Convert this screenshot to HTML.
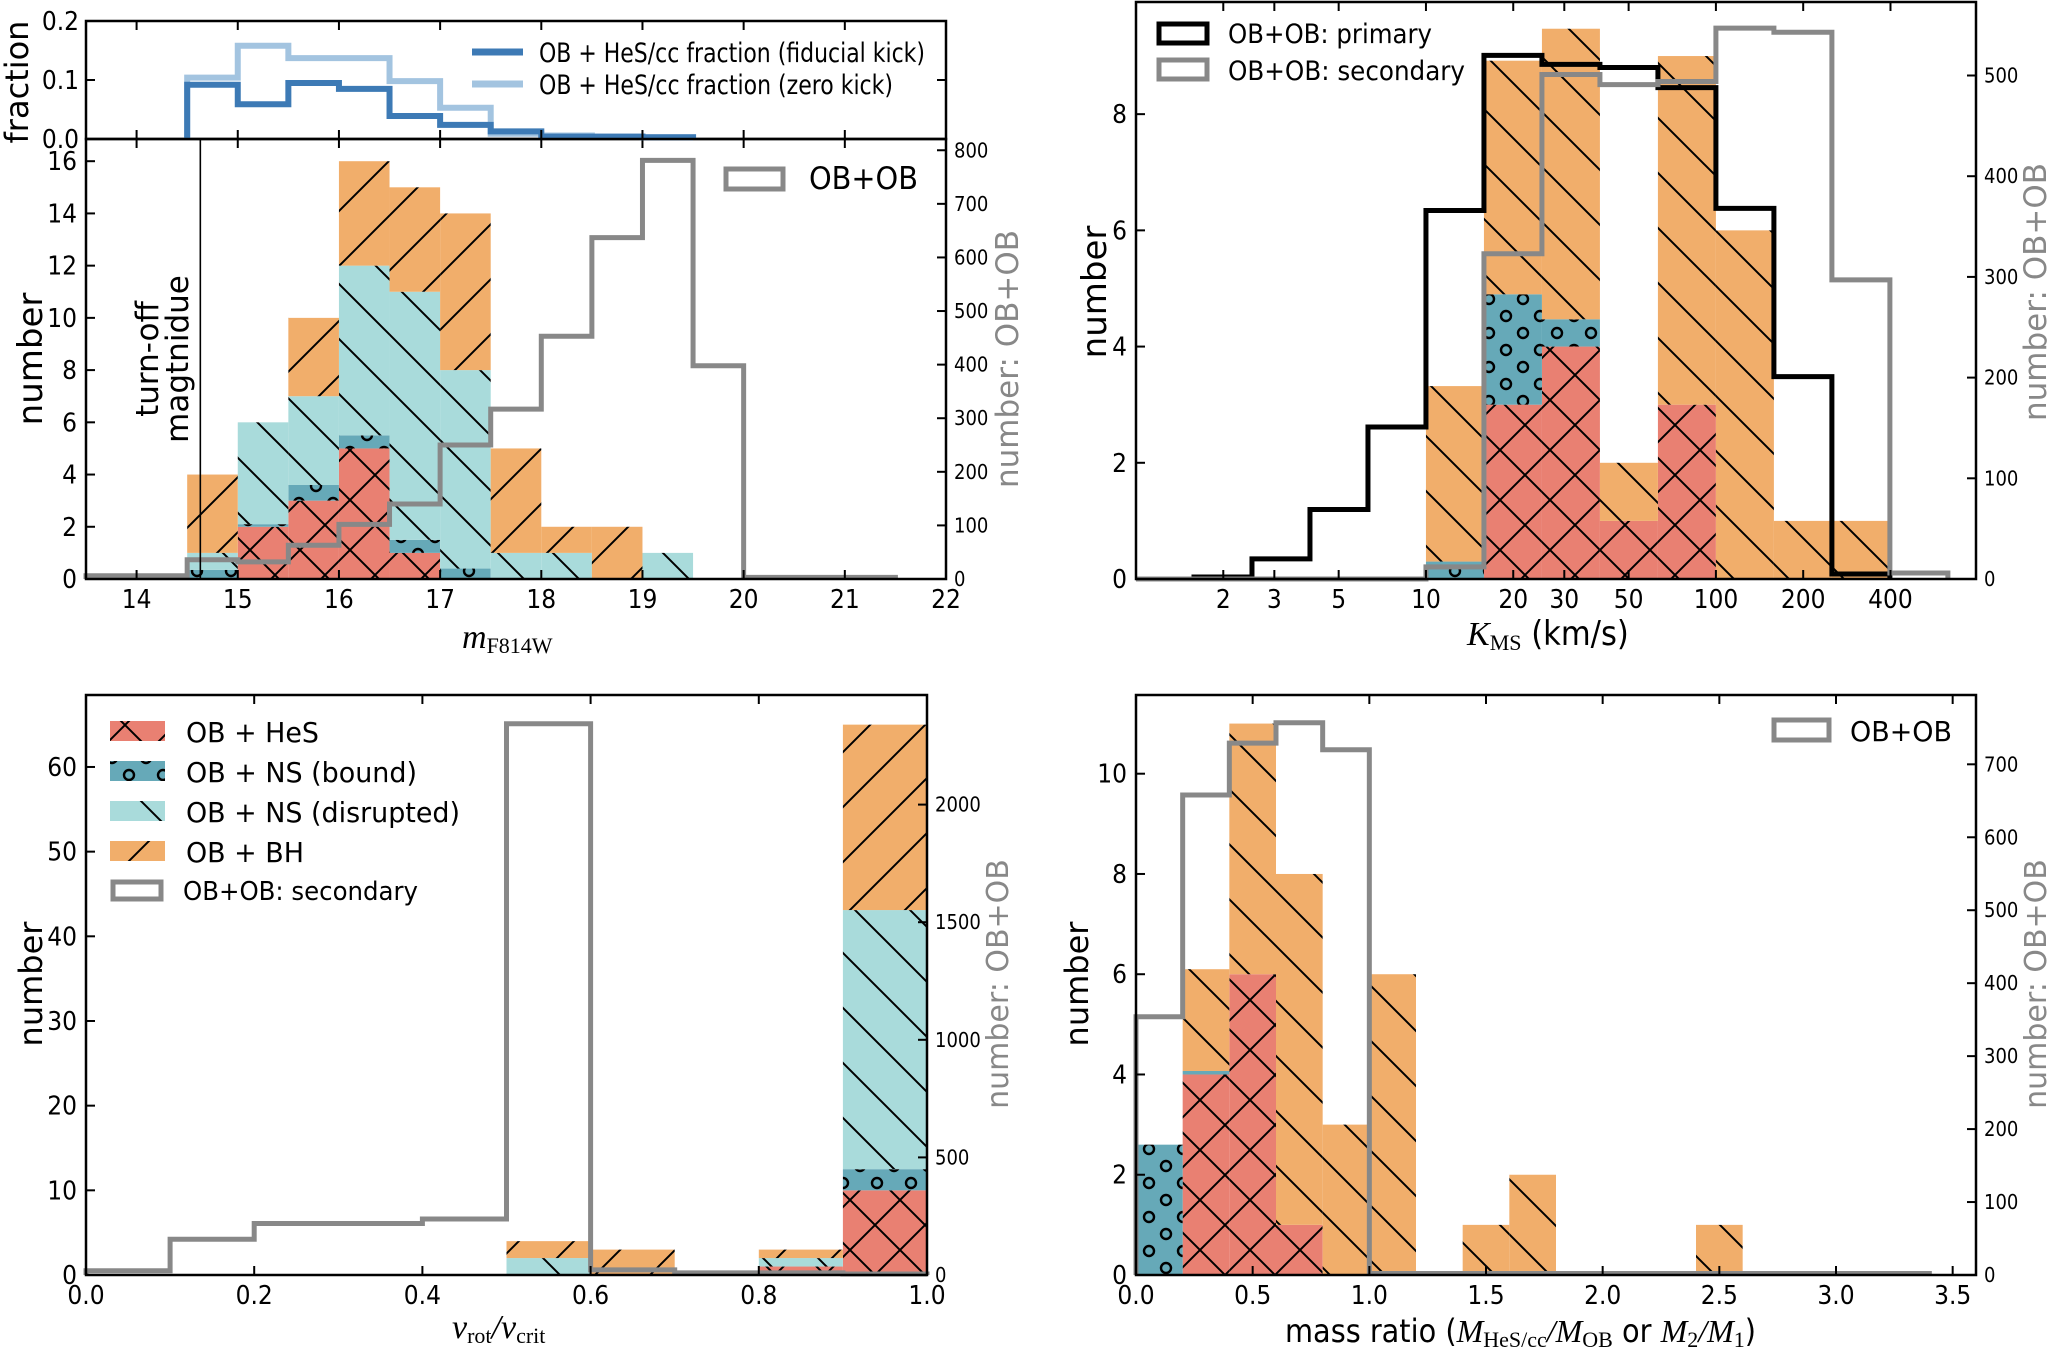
<!DOCTYPE html>
<html><head><meta charset="utf-8"><style>
html,body{margin:0;padding:0;background:#fff;}
svg{display:block;}
text{font-family:"DejaVu Sans Condensed","Liberation Sans Narrow","Liberation Sans",sans-serif;}
.lab{font-family:"DejaVu Sans","Liberation Sans",sans-serif;}
.ser{font-family:"Liberation Serif",serif;font-style:italic;}
.sers{font-family:"Liberation Serif",serif;}
</style></head><body>
<svg id="fig" width="2050" height="1348" viewBox="0 0 2050 1348" xmlns="http://www.w3.org/2000/svg">
<defs>
<pattern id="hx" patternUnits="userSpaceOnUse" width="50" height="50"><rect width="50" height="50" fill="#e98072"/><path d="M0,0L50,50M0,50L50,0" stroke="#000" stroke-width="2"/></pattern>
<pattern id="ho" patternUnits="userSpaceOnUse" width="34" height="34"><rect width="34" height="34" fill="#66a9b8"/><circle cx="10" cy="10" r="5" fill="none" stroke="#000" stroke-width="2.4"/><circle cx="27" cy="27" r="5" fill="none" stroke="#000" stroke-width="2.4"/></pattern>
<pattern id="hb" patternUnits="userSpaceOnUse" width="55" height="55"><rect width="55" height="55" fill="#a9dbdb"/><path d="M0,0L55,55M-10,45L10,65M45,-10L65,10" stroke="#000" stroke-width="2"/></pattern>
<pattern id="hf" patternUnits="userSpaceOnUse" width="55" height="55"><rect width="55" height="55" fill="#f1ae6b"/><path d="M0,55L55,0M-10,10L10,-10M45,65L65,45" stroke="#000" stroke-width="2"/></pattern>
<pattern id="hbo" patternUnits="userSpaceOnUse" width="55" height="55"><rect width="55" height="55" fill="#f1ae6b"/><path d="M0,0L55,55M-10,45L10,65M45,-10L65,10" stroke="#000" stroke-width="2"/></pattern>
</defs>
</svg>
<script>
// ---------- Panel 1 data (m_F814W) ----------
const p1Edges = [14.5,15,15.5,16,16.5,17,17.5,18,18.5,19,19.5];
const p1HeS   = [0,2,3,5,1,0,0,0,0,0];
const p1Bound = [0.35,0.1,0.6,0.5,0.5,0.4,0,0,0,0];
const p1NSd   = [0.65,3.9,3.4,6.5,9.5,7.6,1,1,0,1];
const p1BH    = [3,0,3,4,4,6,4,1,2,0];
const p1GreyEdges = [13.5,14,14.5,15,15.5,16,16.5,17,17.5,18,18.5,19,19.5,20,20.5,21,21.5];
const p1Grey  = [6,6,36,32,63,102,140,250,317,453,637,781,398,3,3,3];
const p1FracEdges = [14.5,15,15.5,16,16.5,17,17.5,18,18.5,19,19.5];
const p1FracFid  = [0.092,0.059,0.095,0.085,0.039,0.024,0.013,0.004,0.004,0.003];
const p1FracZero = [0.104,0.158,0.137,0.137,0.098,0.053,0.009,0.006,0.004,0.003];
const p1XTicks = [14,15,16,17,18,19,20,21,22];
const p1YTicks = [0,2,4,6,8,10,12,14,16];
const p1RTicks = [0,100,200,300,400,500,600,700,800];
const p1FTicks = ["0.0","0.1","0.2"];
// ---------- Panel 2 data (K_MS, log) ----------
const p2EdgeExp = [1.0,1.2,1.4,1.6,1.8,2.0,2.2,2.4,2.6];
const p2HeS   = [0,3,4,1,3,0,0,0];
const p2Bound = [0.3,1.9,0.47,0,0,0,0,0];
const p2NSd   = [0,0,0,0,0,0,0,0];
const p2BH    = [3.02,4.02,5.0,1.0,6.0,6.0,1.0,1.0];
const p2PrimExp = [0,0.2,0.4,0.6,0.8,1.0,1.2,1.4,1.6,1.8,2.0,2.2,2.4,2.6];
const p2Primary = [0,2,20,69,151,366,520,511,508,488,368,201,5];
const p2SecExp = [0,0.2,0.4,0.6,0.8,1.0,1.2,1.4,1.6,1.8,2.0,2.2,2.4,2.6,2.8];
const p2Secondary = [0,0,0,0,0,12,323,501,491,494,547,543,297,6];
const p2XTicks = [2,3,5,10,20,30,50,100,200,400];
const p2YTicks = [0,2,4,6,8];
const p2RTicks = [0,100,200,300,400,500];
// ---------- Panel 3 data (v_rot/v_crit) ----------
const p3Edges = [0,0.1,0.2,0.3,0.4,0.5,0.6,0.7,0.8,0.9,1.0];
const p3HeS   = [0,0,0,0,0,0,0,0,1,10];
const p3Bound = [0,0,0,0,0,0,0,0,0,2.5];
const p3NSd   = [0,0,0,0,0,2,0,0,1,30.6];
const p3BH    = [0,0,0,0,0,2,3,0,1,21.9];
const p3Grey  = [18,152,219,219,238,2344,22,9,9,4];
const p3XTicks = ["0.0","0.2","0.4","0.6","0.8","1.0"];
const p3YTicks = [0,10,20,30,40,50,60];
const p3RTicks = [0,500,1000,1500,2000];
// ---------- Panel 4 data (mass ratio) ----------
const p4Edges = [0,0.2,0.4,0.6,0.8,1.0,1.2,1.4,1.6,1.8,2.0,2.2,2.4,2.6,2.8,3.0,3.2,3.4];
const p4HeS   = [0,4,6,1,0,0,0,0,0,0,0,0,0,0,0,0,0];
const p4Bound = [2.6,0.07,0,0,0,0,0,0,0,0,0,0,0,0,0,0,0];
const p4NSd   = [0,0,0,0,0,0,0,0,0,0,0,0,0,0,0,0,0];
const p4BH    = [0,2.03,5,7,3,6,0,1,2,0,0,0,1,0,0,0,0];
const p4Grey  = [354,658,729,757,720,2,2,2,2,2,2,2,2,2,2,2,2];
const p4XTicks = ["0.0","0.5","1.0","1.5","2.0","2.5","3.0","3.5"];
const p4YTicks = [0,2,4,6,8,10];
const p4RTicks = [0,100,200,300,400,500,600,700];

const NS = "http://www.w3.org/2000/svg";
const svg = document.getElementById('fig');
function mk(tag, attrs, parent, txt){
  const e = document.createElementNS(NS, tag);
  for (const k in attrs) e.setAttribute(k, attrs[k]);
  if (txt !== undefined) e.textContent = txt;
  (parent||svg).appendChild(e);
  return e;
}
function lin(d0,d1,r0,r1){ return v => r0 + (v-d0)/(d1-d0)*(r1-r0); }

function stacked(g, edges, xs, ys, series, fills, name){
  const base = edges.slice(0,-1).map(()=>0);
  series.forEach((s,si)=>{
    s.forEach((v,i)=>{
      if (v<=0) return;
      const x0 = xs(edges[i]), x1 = xs(edges[i+1]);
      const y0 = ys(base[i]), y1 = ys(base[i]+v);
      const r = mk('rect',{x:x0,y:y1,width:x1-x0,height:y0-y1,fill:fills[si]},g);
      
      
      base[i]+=v;
    });
  });
}
function stepLine(g, edges, vals, xs, ys, color, width, name){
  let d = 'M'+xs(edges[0])+','+ys(0);
  vals.forEach((v,i)=>{ d += 'L'+xs(edges[i])+','+ys(v)+'L'+xs(edges[i+1])+','+ys(v); });
  d += 'L'+xs(edges[edges.length-1])+','+ys(0);
  const p = mk('path',{d:d,fill:'none',stroke:color,'stroke-width':width,'stroke-linejoin':'miter'},g);
  
  
}
function frame(g,L,T,R,B){
  const r = mk('rect',{x:L,y:T,width:R-L,height:B-T,fill:'none',stroke:'#000','stroke-width':2.5},g);
  
  
}
function xTicks(g, ticks, xs, T, B, labelY, fmt, size, top){
  ticks.forEach(t=>{
    const v = parseFloat(t), x = xs(v);
    mk('line',{x1:x,y1:B,x2:x,y2:B-9,stroke:'#000','stroke-width':2},g);
    if (top!==false) mk('line',{x1:x,y1:T,x2:x,y2:T+9,stroke:'#000','stroke-width':2},g);
    const tx = mk('text',{x:x,y:labelY,'text-anchor':'middle','font-size':size||26},g,fmt?fmt(t):String(t));
    
    
  });
}
function yTicks(g, ticks, ys, L, R, right){
  ticks.forEach(t=>{
    const y = ys(parseFloat(t));
    if (!right){
      mk('line',{x1:L,y1:y,x2:L+9,y2:y,stroke:'#000','stroke-width':2},g);
      const tx = mk('text',{x:L-9,y:y+9,'text-anchor':'end','font-size':26},g,String(t));
      
      
    } else {
      mk('line',{x1:R,y1:y,x2:R-9,y2:y,stroke:'#000','stroke-width':2},g);
      const tx = mk('text',{x:R+8,y:y+7,'text-anchor':'start','font-size':20},g,String(t));
      
      
    }
  });
}
function rotText(g,x,y,txt,size,color,name,cls){
  const t = mk('text',{x:0,y:0,transform:'translate('+x+','+y+') rotate(-90)','text-anchor':'middle','font-size':size,fill:color||'#000',class:cls||'lab'},g,txt);
  
  
  return t;
}
function legendBox(g,x,y,w,h,color,name){
  const r = mk('rect',{x:x,y:y,width:w,height:h,fill:'none',stroke:color,'stroke-width':5},g);
  
  
}
function legText(g,x,y,txt,size,name,len){
  const t = mk('text',{x:x,y:y,'font-size':size},g,txt);
  if (len){ t.setAttribute('textLength',len); t.setAttribute('lengthAdjust','spacingAndGlyphs'); }
  
  
}
const SUBT = 'font-family="Liberation Serif" font-size="22"';
const ITT = 'font-family="Liberation Serif" font-style="italic"';

// ===== Panel 1 =====
(function(){
  const g = mk('g',{});  
  const L=86,R=946,T=139,B=579,FT=21;
  const xs = lin(13.5,22,L,R), ys = lin(0,16.85,B,T), yr = lin(0,821,B,T), yf = lin(0,0.2,T,FT);
  stacked(g,p1Edges,xs,ys,[p1HeS,p1Bound,p1NSd,p1BH],['url(#hx)','url(#ho)','url(#hb)','url(#hf)'],['hes','ns-bound','ns-disrupted','bh']);
  stepLine(g,p1GreyEdges,p1Grey,xs,yr,'#888',5,'ob-ob-histogram');
  const vl = mk('line',{x1:xs(14.63),y1:T,x2:xs(14.63),y2:B,stroke:'#000','stroke-width':1.6},g);
   
  rotText(g,158,359,'turn-off',31,'#000','turn-off-label');
  rotText(g,188,359,'magtnidue',31,'#000','turn-off-label-2');
  frame(g,L,T,R,B);
  xTicks(g,p1XTicks,xs,T,B,608);
  yTicks(g,p1YTicks,ys,L,R,false);
  yTicks(g,p1RTicks,yr,L,R,true);
  stepLine(g,p1FracEdges,p1FracZero,xs,yf,'#a3c4e0',6,'fraction-zero-kick');
  stepLine(g,p1FracEdges,p1FracFid,xs,yf,'#3d7ab5',6,'fraction-fiducial-kick');
  frame(g,L,FT,R,T);
  p1XTicks.forEach(t=>{ const x=xs(t); mk('line',{x1:x,y1:T,x2:x,y2:T-9,stroke:'#000','stroke-width':2},g); mk('line',{x1:x,y1:FT,x2:x,y2:FT+9,stroke:'#000','stroke-width':2},g); });
  p1FTicks.forEach(t=>{ const y=yf(parseFloat(t)); mk('line',{x1:L,y1:y,x2:L+9,y2:y,stroke:'#000','stroke-width':2},g); mk('line',{x1:R,y1:y,x2:R-9,y2:y,stroke:'#000','stroke-width':2},g);
    const tx=mk('text',{x:L-7,y:y+9,'text-anchor':'end','font-size':26},g,t);   });
  rotText(g,28,82,'fraction',32,'#000','fraction-axis-title');
  rotText(g,42,359,'number',34,'#000','y-axis-title');
  rotText(g,1018,359,'number: OB+OB',31,'#888','right-y-axis-title');
  const xl = mk('text',{x:462,y:648,'font-size':34},g);
   
  xl.innerHTML = '<tspan '+ITT+'>m</tspan><tspan '+SUBT+' dy="5">F814W</tspan>';
  const l1=mk('line',{x1:472,y1:52,x2:523,y2:52,stroke:'#3d7ab5','stroke-width':7},g);  
  const l2=mk('line',{x1:472,y1:84,x2:523,y2:84,stroke:'#a3c4e0','stroke-width':7},g);  
  legText(g,539,62,'OB + HeS/cc fraction (fiducial kick)',27,'legend-fiducial',386);
  legText(g,539,94,'OB + HeS/cc fraction (zero kick)',27,'legend-zero',354);
  legendBox(g,726,169,57,20,'#888','legend-ob-ob-box');
  legText(g,809,189,'OB+OB',31,'legend-ob-ob',109);
})();

// ===== Panel 2 =====
(function(){
  const g = mk('g',{});  
  const L=1136,R=1976,T=2,B=579;
  const lx = lin(0,2.897,L,R);
  const xs = v => lx(Math.log10(v));
  const xe = e => lx(e);
  const ys = lin(0,9.93,B,T), yr = lin(0,573,B,T);
  const edges = p2EdgeExp.map(e=>Math.pow(10,e));
  stacked(g,edges,xs,ys,[p2HeS,p2Bound,p2NSd,p2BH],['url(#hx)','url(#ho)','url(#hb)','url(#hbo)'],['hes','ns-bound','ns-disrupted','bh']);
  stepLine(g,p2PrimExp,p2Primary,xe,yr,'#000',5,'ob-ob-primary');
  stepLine(g,p2SecExp,p2Secondary,xe,yr,'#888',5,'ob-ob-secondary');
  frame(g,L,T,R,B);
  xTicks(g,p2XTicks,xs,T,B,608);
  yTicks(g,p2YTicks,ys,L,R,false);
  yTicks(g,p2RTicks,yr,L,R,true);
  rotText(g,1106,292,'number',34,'#000','y-axis-title');
  rotText(g,2046,292,'number: OB+OB',31,'#888','right-y-axis-title');
  const xl = mk('text',{x:1467,y:645,'font-size':34},g);
   
  xl.innerHTML = '<tspan '+ITT+'>K</tspan><tspan '+SUBT+' dy="5">MS</tspan><tspan dy="-5"> (km/s)</tspan>';
  legendBox(g,1159,24,48,19,'#000','legend-primary-box');
  legendBox(g,1159,60,48,19,'#888','legend-secondary-box');
  legText(g,1228,43,'OB+OB: primary',27,'legend-primary',204);
  legText(g,1228,80,'OB+OB: secondary',27,'legend-secondary',237);
})();

// ===== Panel 3 =====
(function(){
  const g = mk('g',{});  
  const L=86,R=927,T=695,B=1275;
  const xs = lin(0,1,L,R), ys = lin(0,68.5,B,T), yr = lin(0,2466,B,T);
  stacked(g,p3Edges,xs,ys,[p3HeS,p3Bound,p3NSd,p3BH],['url(#hx)','url(#ho)','url(#hb)','url(#hf)'],['hes','ns-bound','ns-disrupted','bh']);
  stepLine(g,p3Edges,p3Grey,xs,yr,'#888',5,'ob-ob-secondary');
  frame(g,L,T,R,B);
  xTicks(g,p3XTicks,xs,T,B,1304);
  yTicks(g,p3YTicks,ys,L,R,false);
  yTicks(g,p3RTicks,yr,L,R,true);
  rotText(g,42,984,'number',32,'#000','y-axis-title');
  rotText(g,1008,984,'number: OB+OB',30,'#888','right-y-axis-title');
  const xl = mk('text',{x:452,y:1338,'font-size':34},g);
   
  xl.innerHTML = '<tspan '+ITT+'>v</tspan><tspan '+SUBT+' dy="5">rot</tspan><tspan '+ITT+' dy="-5">/v</tspan><tspan '+SUBT+' dy="5">crit</tspan>';
  const leg = [['url(#hx)','OB + HeS',133],['url(#ho)','OB + NS (bound)',231],['url(#hb)','OB + NS (disrupted)',274],['url(#hf)','OB + BH',118]];
  leg.forEach((l,i)=>{
    const y = 721+i*40;
    const r = mk('rect',{x:110,y:y,width:55,height:20,fill:l[0]},g);
     
    legText(g,186,y+21,l[1],28,'legend-entry-'+i,l[2]);
  });
  legendBox(g,113,882,48,17,'#888','legend-secondary-box');
  legText(g,183,900,'OB+OB: secondary',26,'legend-secondary',235);
})();

// ===== Panel 4 =====
(function(){
  const g = mk('g',{});  
  const L=1136,R=1976,T=695,B=1275;
  const xs = lin(0,3.6,L,R), ys = lin(0,11.57,B,T), yr = lin(0,795,B,T);
  stacked(g,p4Edges,xs,ys,[p4HeS,p4Bound,p4NSd,p4BH],['url(#hx)','url(#ho)','url(#hb)','url(#hbo)'],['hes','ns-bound','ns-disrupted','bh']);
  stepLine(g,p4Edges,p4Grey,xs,yr,'#888',5,'ob-ob-histogram');
  frame(g,L,T,R,B);
  xTicks(g,p4XTicks,xs,T,B,1304);
  yTicks(g,p4YTicks,ys,L,R,false);
  yTicks(g,p4RTicks,yr,L,R,true);
  rotText(g,1088,984,'number',32,'#000','y-axis-title');
  rotText(g,2046,984,'number: OB+OB',30,'#888','right-y-axis-title');
  const t = mk('text',{x:1285,y:1342,'font-size':32},g);
   
  t.innerHTML = 'mass ratio (<tspan '+ITT+'>M</tspan><tspan '+SUBT+' dy="5">HeS/cc</tspan><tspan '+ITT+' dy="-5">/M</tspan><tspan '+SUBT+' dy="5">OB</tspan><tspan dy="-5"> or </tspan><tspan '+ITT+'>M</tspan><tspan '+SUBT+' dy="5">2</tspan><tspan '+ITT+' dy="-5">/M</tspan><tspan '+SUBT+' dy="5">1</tspan><tspan dy="-5">)</tspan>';
  legendBox(g,1774,720,55,20,'#888','legend-ob-ob-box');
  legText(g,1850,741,'OB+OB',28,'legend-ob-ob',102);
})();
</script>
</body></html>
